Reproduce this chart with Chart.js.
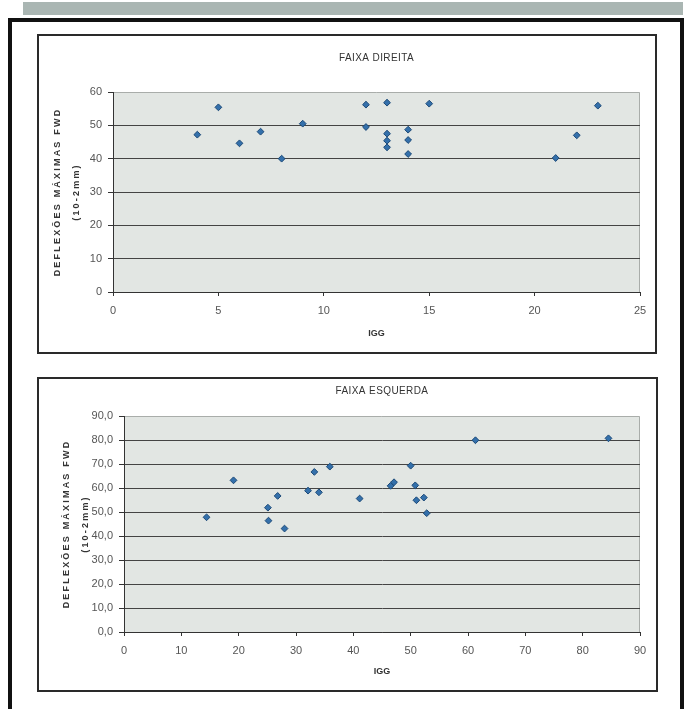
<!DOCTYPE html>
<html>
  <head>
    <meta charset="utf-8" />
    <title>Deflexões máximas FWD x IGG</title>
    <script src="https://cdn.jsdelivr.net/npm/chart.js@4.4.1/dist/chart.umd.min.js"></script>
    <style>
      body {
        margin: 0;
        background: #fff;
        width: 686px;
        height: 709px;
        position: relative;
        overflow: hidden;
      }
      #faixa {
        position: absolute;
        left: 23px;
        top: 2px;
        width: 660px;
        height: 13px;
        background: #aab6b3;
      }
      #moldura {
        position: absolute;
        left: 8px;
        top: 18px;
        width: 668px;
        height: 720px;
        border: 4px solid #111;
        border-bottom: none;
      }
      .caixa {
        position: absolute;
        border: 2px solid #2a2a2a;
      }
      .caixa canvas {
        position: absolute;
        left: 0;
        top: 0;
      }
    </style>
  </head>
  <body>
    <div id="faixa"></div>
    <div id="moldura"></div>
    <div class="caixa" style="left: 37px; top: 34px; width: 616px; height: 316px">
      <canvas id="graficoDireita" width="616" height="316"></canvas>
    </div>
    <div class="caixa" style="left: 37px; top: 377px; width: 617px; height: 311px">
      <canvas id="graficoEsquerda" width="617" height="311"></canvas>
    </div>
    <script>
      // faixa direita
      const direitaIgg = [4, 5, 6, 7, 8, 9, 12, 12, 13, 13, 13, 13, 14, 14, 14, 15, 21, 22, 23];
      const direitaDefl = [47.2, 55.4, 44.6, 48.1, 40.0, 50.5, 56.2, 49.5, 56.8, 47.5, 45.4, 43.4, 48.7, 45.6, 41.4, 56.5, 40.2, 47.0, 55.9];

      // faixa esquerda
      const esquerdaIgg = [14.4, 19.1, 25.1, 25.2, 26.8, 28.0, 32.1, 33.2, 34.0, 35.9, 41.1, 46.5, 47.1, 50.0, 50.8, 51.0, 52.3, 52.8, 61.3, 84.5];
      const esquerdaDefl = [47.8, 63.2, 51.8, 46.4, 56.7, 43.1, 58.9, 66.7, 58.2, 68.9, 55.6, 60.9, 62.4, 69.3, 61.1, 54.9, 56.0, 49.5, 79.9, 80.7];

      // limites dos eixos [min, max, passo]
      const direitaEixoX = [0, 25, 5];
      const direitaEixoY = [0, 60, 10];
      const esquerdaEixoX = [0, 90, 10];
      const esquerdaEixoY = [0, 90, 10];

      const tituloY = ["DEFLEXÕES MÁXIMAS FWD", "(10-2mm)"];
      const tituloX = "IGG";

      const fonte = '"Liberation Sans", Arial, sans-serif';

      // fundo cinza da área de plotagem
      const fundo = {
        id: "fundo",
        beforeDraw(chart) {
          const { ctx, chartArea: a } = chart;
          ctx.save();
          ctx.fillStyle = "#e2e6e3";
          ctx.fillRect(a.left, a.top, a.width, a.height);
          ctx.strokeStyle = "#a9adaa";
          ctx.lineWidth = 1;
          ctx.beginPath();
          ctx.moveTo(a.left, a.top + 0.5);
          ctx.lineTo(a.right - 0.5, a.top + 0.5);
          ctx.lineTo(a.right - 0.5, a.bottom);
          ctx.stroke();
          ctx.restore();
        },
      };

      // título do gráfico, centrado sobre a área de plotagem
      const tituloFaixa = {
        id: "tituloFaixa",
        afterDraw(chart, args, opts) {
          const { ctx, chartArea: a } = chart;
          ctx.save();
          ctx.font = "10px " + fonte;
          ctx.fillStyle = "#333";
          ctx.textAlign = "center";
          ctx.textBaseline = "middle";
          ctx.letterSpacing = "0.4px";
          ctx.fillText(opts.text, (a.left + a.right) / 2, opts.y);
          ctx.restore();
        },
      };

      function desenha(id, titulo, igg, defl, eixoX, eixoY, cfg) {
        const pontos = igg.map((x, i) => ({ x: x, y: defl[i] }));
        return new Chart(document.getElementById(id), {
          type: "scatter",
          data: {
            datasets: [
              {
                data: pontos,
                pointStyle: "rectRot",
                pointRadius: 3.4,
                backgroundColor: "#3470ab",
                borderColor: "#1d4a78",
                borderWidth: 1,
              },
            ],
          },
          options: {
            responsive: false,
            animation: false,
            layout: { padding: { left: 0, right: cfg.dir, top: cfg.topo, bottom: 0 } },
            plugins: {
              legend: { display: false },
              tooltip: { enabled: false },
              title: { display: false },
              tituloFaixa: { text: titulo, y: cfg.ty },
            },
            scales: {
              x: {
                type: "linear",
                min: eixoX[0],
                max: eixoX[1],
                ticks: {
                  stepSize: eixoX[2],
                  color: "#555",
                  padding: 8,
                  font: { family: fonte, size: 11 },
                },
                grid: { drawOnChartArea: false, tickLength: 4, tickColor: "#333" },
                border: { color: "#333", width: 1 },
                title: {
                  display: true,
                  text: tituloX,
                  color: "#333",
                  font: { family: fonte, size: 9, weight: "bold" },
                  padding: { top: 0, bottom: 13 },
                },
                afterFit: (s) => {
                  s.height = cfg.altX;
                },
              },
              y: {
                min: eixoY[0],
                max: eixoY[1],
                ticks: {
                  stepSize: eixoY[2],
                  color: "#555",
                  padding: 6,
                  font: { family: fonte, size: 11 },
                  callback: cfg.rotulo,
                },
                grid: {
                  color: (c) => (c.tick.value === eixoY[1] ? "rgba(0,0,0,0)" : "#444"),
                  tickColor: "#333",
                  tickLength: 5,
                },
                border: { color: "#333", width: 1 },
                title: {
                  display: true,
                  text: tituloY,
                  color: "#333",
                  font: { family: fonte, size: 9, weight: "bold", lineHeight: 2.1 },
                  padding: { top: cfg.tituloEsq, bottom: 0 },
                },
                afterFit: (s) => {
                  s.width = cfg.largY;
                  if (!s._espacado) {
                    const orig = s.drawTitle;
                    s.drawTitle = function () {
                      this.ctx.save();
                      this.ctx.letterSpacing = "2.2px";
                      orig.apply(this, arguments);
                      this.ctx.restore();
                    };
                    s._espacado = true;
                  }
                },
              },
            },
          },
          plugins: [fundo, tituloFaixa],
        });
      }

      desenha("graficoDireita", "FAIXA DIREITA", direitaIgg, direitaDefl, direitaEixoX, direitaEixoY, {
        topo: 56,
        dir: 15,
        largY: 74,
        altX: 60,
        tituloEsq: 9.5,
        ty: 22,
        rotulo: (v) => v,
      });

      desenha("graficoEsquerda", "FAIXA ESQUERDA", esquerdaIgg, esquerdaDefl, esquerdaEixoX, esquerdaEixoY, {
        topo: 37,
        dir: 16,
        largY: 85,
        altX: 58,
        tituloEsq: 18.5,
        ty: 12,
        rotulo: (v) => v.toFixed(1).replace(".", ","),
      });
    </script>
  </body>
</html>
